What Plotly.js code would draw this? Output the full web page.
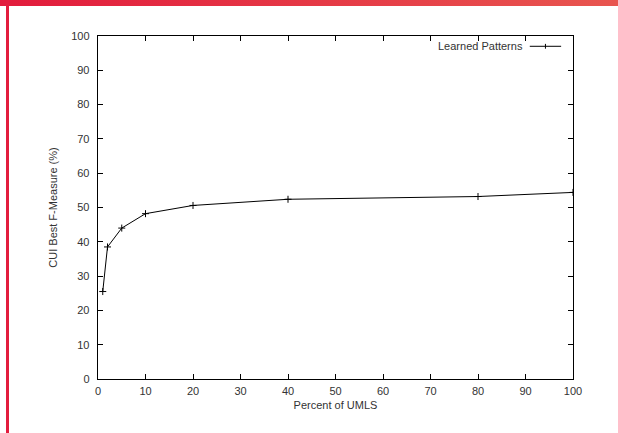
<!DOCTYPE html>
<html><head><meta charset="utf-8">
<script src="https://cdn.plot.ly/plotly-3.0.1.min.js"></script>
<style>
html,body{margin:0;padding:0;background:#fff;}
#wrap{position:relative;width:618px;height:433px;overflow:hidden;}
#topbar{position:absolute;left:0;top:0;width:618px;height:6px;background:linear-gradient(to right,#e21b3c,#e8554f);z-index:2;}
#leftbar{position:absolute;left:6px;top:0;width:3px;height:433px;background:#e31c3d;z-index:2;}
#chart{position:absolute;left:0;top:0;width:618px;height:433px;}
</style></head>
<body><div id="wrap"><div id="chart"></div><div id="topbar"></div><div id="leftbar"></div></div>
<script>
const percentUMLS = [1, 2, 5, 10, 20, 40, 80, 100];
const fMeasure = [25.5, 38.5, 44.0, 48.2, 50.6, 52.4, 53.2, 54.4];
const seriesName = "Learned Patterns";
const xTitle = "Percent of UMLS";
const yTitle = "CUI Best F-Measure (%)";

const font = {family: "Liberation Sans, Arial, sans-serif", size: 11, color: "#333"};
const trace = {
  x: percentUMLS, y: fMeasure, type: "scatter", mode: "lines+markers",
  name: seriesName, showlegend: false,
  line: {color: "#000", width: 1},
  marker: {symbol: "cross-thin", size: 5, color: "#000", line: {color: "#000", width: 1}}
};
const axisCommon = {
  showgrid: false, zeroline: false, showline: true, linecolor: "#000", linewidth: 1.3,
  mirror: "ticks", ticks: "inside", ticklen: 5, tickcolor: "#000", tickwidth: 1,
  tickfont: font
};
const layout = {
  width: 618, height: 433,
  margin: {l: 98, r: 45, t: 36, b: 54},
  paper_bgcolor: "#fff", plot_bgcolor: "#fff",
  font: font,
  xaxis: Object.assign({}, axisCommon, {range: [0, 100], dtick: 10, tick0: 0, ticklabelstandoff: 1,
    title: {text: xTitle, font: font, standoff: 5}}),
  yaxis: Object.assign({}, axisCommon, {range: [0, 100], dtick: 10, tick0: 0, ticklabelstandoff: 5,
    title: {text: yTitle, font: font, standoff: 11}}),
  annotations: [{xref: "paper", yref: "paper", x: 0.899, y: 0.97, xanchor: "right", yanchor: "middle",
    text: seriesName, showarrow: false, font: font}],
  shapes: [
    {type: "line", xref: "paper", yref: "paper", x0: 0.909, x1: 0.975, y0: 0.97, y1: 0.97, line: {color: "#000", width: 1}},
    {type: "line", xref: "paper", yref: "paper", x0: 0.942, x1: 0.942, y0: 0.963, y1: 0.977, line: {color: "#000", width: 1}}
  ]
};
Plotly.newPlot("chart", [trace], layout, {displayModeBar: false, staticPlot: true});
</script></body></html>
